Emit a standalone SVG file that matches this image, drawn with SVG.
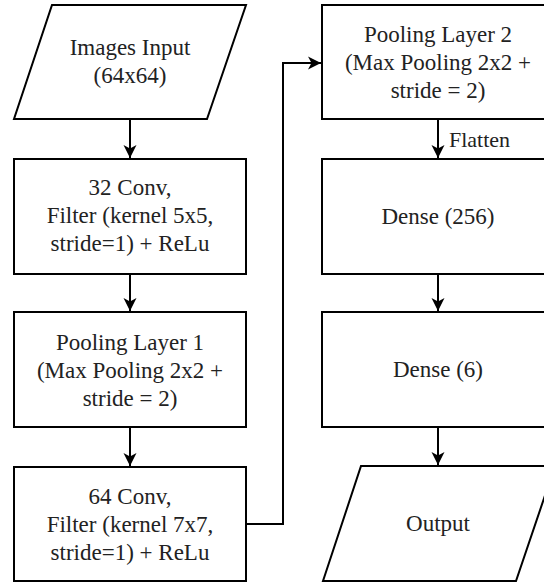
<svg xmlns="http://www.w3.org/2000/svg" width="544" height="582" viewBox="0 0 544 582">
  <style>
    .shape { fill: #ffffff; stroke: #000000; stroke-width: 2; }
    .edge { fill: none; stroke: #000000; stroke-width: 2; }
    .label { font-family: 'Liberation Serif', 'Times New Roman', 'DejaVu Serif', serif; font-size: 23px; fill: #222222; text-anchor: middle; }
    .edge-label { font-family: 'Liberation Serif', 'Times New Roman', 'DejaVu Serif', serif; font-size: 22px; fill: #222222; }
  </style>
  <defs>
    <!-- classic filled arrowhead with a notched back -->
    <marker id="arrow" viewBox="0 0 14 14" refX="13" refY="7" markerWidth="14" markerHeight="14" markerUnits="userSpaceOnUse" orient="auto">
      <path d="M13,7 L0,0.5 L3.5,7 L0,13.5 Z" fill="#000000"/>
    </marker>
  </defs>
  <rect width="544" height="582" fill="#ffffff"/>

  <!-- connectors -->
  <g id="connectors">
    <path class="edge" d="M130,119 L130,158" marker-end="url(#arrow)"/>
    <path class="edge" d="M130,274 L130,311" marker-end="url(#arrow)"/>
    <path class="edge" d="M130,427 L130,466" marker-end="url(#arrow)"/>
    <path class="edge" d="M246,524 L283,524 L283,63 L321,63" marker-end="url(#arrow)"/>
    <path class="edge" d="M438,119 L438,158" marker-end="url(#arrow)"/>
    <text class="edge-label" x="449" y="147">Flatten</text>
    <path class="edge" d="M438,274 L438,311" marker-end="url(#arrow)"/>
    <path class="edge" d="M438,427 L438,465" marker-end="url(#arrow)"/>
  </g>

  <!-- left column -->
  <g id="input">
    <polygon class="shape" points="52,5 246,5 207,119 14,119"/>
    <text class="label" x="130" y="55">Images Input</text>
    <text class="label" x="130" y="83">(64x64)</text>
  </g>

  <g id="conv1">
    <rect class="shape" x="14" y="159" width="232" height="115"/>
    <text class="label" x="130" y="195">32 Conv,</text>
    <text class="label" x="130" y="223">Filter (kernel 5x5,</text>
    <text class="label" x="130" y="251">stride=1) + ReLu</text>
  </g>

  <g id="pool1">
    <rect class="shape" x="14" y="312" width="232" height="115"/>
    <text class="label" x="130" y="350">Pooling Layer 1</text>
    <text class="label" x="130" y="378">(Max Pooling 2x2 +</text>
    <text class="label" x="130" y="406">stride = 2)</text>
  </g>

  <g id="conv2">
    <rect class="shape" x="14" y="467" width="232" height="114"/>
    <text class="label" x="130" y="504">64 Conv,</text>
    <text class="label" x="130" y="532">Filter (kernel 7x7,</text>
    <text class="label" x="130" y="560">stride=1) + ReLu</text>
  </g>

  <!-- right column -->
  <g id="pool2">
    <rect class="shape" x="322" y="5" width="232" height="114"/>
    <text class="label" x="438" y="42">Pooling Layer 2</text>
    <text class="label" x="438" y="70">(Max Pooling 2x2 +</text>
    <text class="label" x="438" y="98">stride = 2)</text>
  </g>

  <g id="dense256">
    <rect class="shape" x="322" y="159" width="232" height="115"/>
    <text class="label" x="438" y="224">Dense (256)</text>
  </g>

  <g id="dense6">
    <rect class="shape" x="322" y="312" width="232" height="115"/>
    <text class="label" x="438" y="377">Dense (6)</text>
  </g>

  <g id="output">
    <polygon class="shape" points="361,466 555,466 516,581 323,581"/>
    <text class="label" x="438" y="531">Output</text>
  </g>
</svg>
